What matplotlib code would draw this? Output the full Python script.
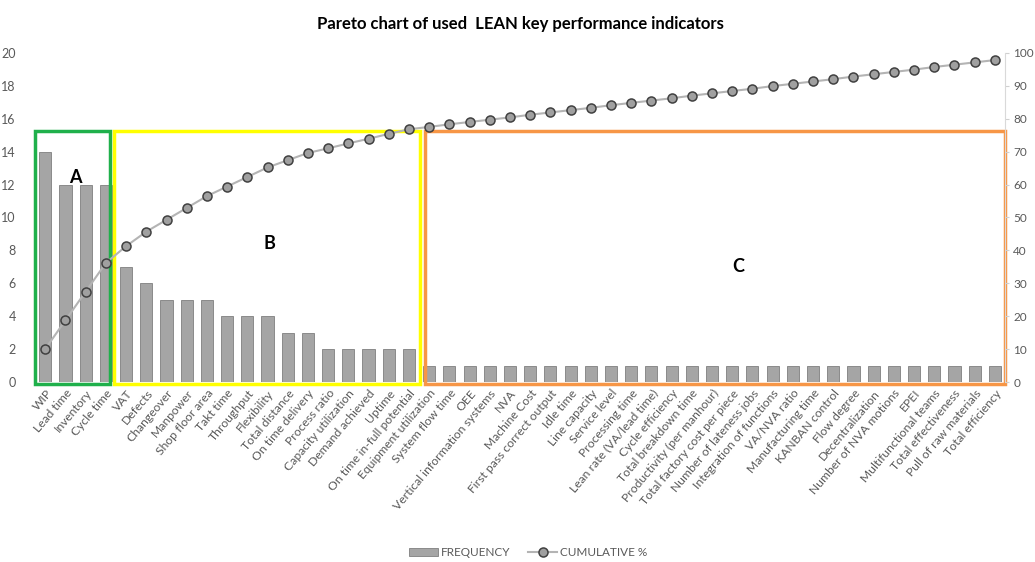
import matplotlib.pyplot as plt
from matplotlib.patches import Rectangle

# KPI names and how often each one was used
kpis = [
    "WIP", "Lead time", "Inventory", "Cycle time",
    "VAT", "Defects", "Changeover", "Manpower", "Shop floor area", "Takt time",
    "Throughput", "Flexibility", "Total distance", "On time delivery",
    "Process ratio", "Capacity utilization", "Demand achieved", "Uptime",
    "On time in-full potential",
    "Equipment utilization", "System flow time", "OEE",
    "Vertical information systems", "NVA", "Machine Cost",
    "First pass correct output", "Idle time", "Line capacity", "Service level",
    "Processing time", "Lean rate (VA/lead time)", "Cycle efficiency",
    "Total breakdown time", "Productivity (per manhour)",
    "Total factory cost per piece", "Number of lateness jobs",
    "Integration of functions", "VA/NVA ratio", "Manufacturing time",
    "KANBAN control", "Flow degree", "Decentralization",
    "Number of NVA motions", "EPEI", "Multifunctional teams",
    "Total effectiveness", "Pull of raw materials", "Total efficiency",
]
frequency = [14, 12, 12, 12,
             7, 6, 5, 5, 5, 4, 4, 4, 3, 3, 2, 2, 2, 2, 2,
             1, 1, 1, 1, 1, 1, 1, 1, 1, 1, 1, 1, 1, 1, 1, 1, 1, 1, 1, 1,
             1, 1, 1, 1, 1, 1, 1, 1, 1]
cumulative = [10.1, 18.8, 27.5, 36.2, 41.3, 45.7, 49.3, 52.9, 56.5, 59.4,
              62.3, 65.2, 67.4, 69.6, 71.0, 72.5, 73.9, 75.4, 76.8, 77.5,
              78.3, 79.0, 79.7, 80.4, 81.2, 81.9, 82.6, 83.3, 84.1, 84.8,
              85.5, 86.2, 87.0, 87.7, 88.4, 89.1, 89.9, 90.6, 91.3, 92.0,
              92.8, 93.5, 94.2, 94.9, 95.7, 96.4, 97.1, 97.8]

plt.rcParams['font.family'] = ['Lato', 'DejaVu Sans']
grey_txt = "#595959"

fig = plt.figure(figsize=(10.35, 5.62), dpi=100)
ax = fig.add_axes([0.034, 0.320, 0.937, 0.586])
x = list(range(len(kpis)))

ax.bar(x, frequency, width=0.6, color="#a5a5a5", edgecolor="#7f7f7f",
       linewidth=0.6, label="FREQUENCY", zorder=2)
ax.set_xlim(-0.5, len(kpis) - 0.5)
ax.set_ylim(0, 20)
ax.set_yticks(range(0, 21, 2))
ax.tick_params(axis="y", length=0, labelsize=9, colors=grey_txt, pad=14)
ax.set_xticks(x)
ax.set_xticklabels(kpis, rotation=50, ha="right", rotation_mode="anchor",
                   fontsize=8.7, color=grey_txt)
ax.tick_params(axis="x", length=0, pad=4)
for s in ax.spines.values():
    s.set_visible(False)

ax2 = ax.twinx()
ax2.plot(x, cumulative, color="#b4b4b4", linewidth=1.5, marker="o",
         markersize=6.5, markerfacecolor="#a0a0a0", markeredgecolor="#404040",
         markeredgewidth=1.1, label="CUMULATIVE %", zorder=3)
ax2.set_ylim(0, 100)
ax2.set_yticks(range(0, 101, 10))
ax2.tick_params(axis="y", length=3, color="#d0d0d0", labelsize=8.5,
                labelcolor=grey_txt, pad=3)
for name, s in ax2.spines.items():
    s.set_visible(name == "right")
ax2.spines["right"].set_color("#d9d9d9")

# A / B / C groups
boxes = [(-0.5, 3.22, "#1fb04b"), (3.42, 18.56, "#ffff00"), (18.81, 47.5, "#f79646")]
for x0, x1, col in boxes:
    ax.add_patch(Rectangle((x0, -0.12), x1 - x0, 15.37, fill=False,
                           edgecolor=col, linewidth=2.5, clip_on=False, zorder=4))
ax.text(1.5, 12.4, "A", fontsize=13, fontweight="bold", ha="center", va="center")
ax.text(11.1, 8.45, "B", fontsize=13, fontweight="bold", ha="center", va="center")
ax.text(34.3, 7.0, "C", fontsize=13, fontweight="bold", ha="center", va="center")

fig.text(0.503, 0.958, "Pareto chart of used  LEAN key performance indicators",
         ha="center", va="center", fontsize=12, fontweight="bold")

h1, l1 = ax.get_legend_handles_labels()
h2, l2 = ax2.get_legend_handles_labels()
fig.legend(h1 + h2, l1 + l2, loc="lower center", bbox_to_anchor=(0.51, -0.012),
           ncol=2, frameon=False, fontsize=8.5, labelcolor=grey_txt,
           handlelength=2.5, columnspacing=1.5, handletextpad=0.2)

plt.savefig("out.png", dpi=100)
